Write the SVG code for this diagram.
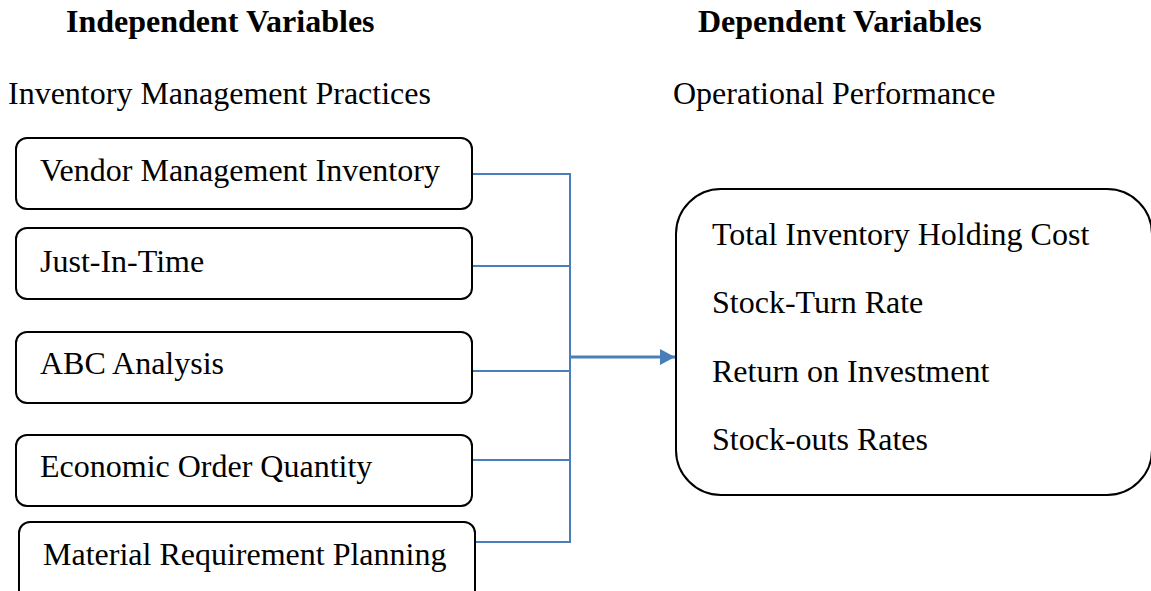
<svg xmlns="http://www.w3.org/2000/svg" width="1151" height="591" viewBox="0 0 1151 591">
<style>
text{font-family:"Liberation Serif","Times New Roman",serif;font-size:32px;fill:#000}
.h{font-weight:bold}
.box{fill:#fff;stroke:#000;stroke-width:2}
.c{fill:none;stroke:#4A7EBB;stroke-width:2}
</style>
<defs>
<marker id="ah" markerWidth="16" markerHeight="16" refX="15" refY="8" orient="auto" markerUnits="userSpaceOnUse">
<path d="M0,0 L15,8 L0,16 Z" fill="#4A7EBB"/>
</marker>
</defs>
<g id="headings">
<text class="h" x="66" y="32">Independent Variables</text>
<text class="h" x="698" y="32">Dependent Variables</text>
<text x="8" y="104">Inventory Management Practices</text>
<text x="673" y="104">Operational Performance</text>
</g>
<g id="connectors">
<path class="c" d="M473,174 H570 M473,266 H570 M473,371 H570 M473,460 H570 M476,542 H570 M570,173 V543"/>
<path class="c" d="M570,357 H675" stroke-width="3" style="stroke-width:3" marker-end="url(#ah)"/>
</g>
<g id="vmi">
<rect class="box" x="16" y="138" width="456" height="71" rx="11"/>
<text x="40" y="181">Vendor Management Inventory</text>
</g>
<g id="jit">
<rect class="box" x="16" y="228" width="456" height="71" rx="11"/>
<text x="40" y="272">Just-In-Time</text>
</g>
<g id="abc">
<rect class="box" x="16" y="332" width="456" height="71" rx="11"/>
<text x="40" y="374">ABC Analysis</text>
</g>
<g id="eoq">
<rect class="box" x="16" y="435" width="456" height="71" rx="11"/>
<text x="40" y="477">Economic Order Quantity</text>
</g>
<g id="mrp">
<rect class="box" x="19" y="522" width="456" height="80" rx="11"/>
<text x="43" y="565">Material Requirement Planning</text>
</g>
<g id="performance">
<rect class="box" x="676" y="189" width="476" height="306" rx="45"/>
<text x="712" y="245">Total Inventory Holding Cost</text>
<text x="712" y="313">Stock-Turn Rate</text>
<text x="712" y="382">Return on Investment</text>
<text x="712" y="450">Stock-outs Rates</text>
</g>
</svg>
